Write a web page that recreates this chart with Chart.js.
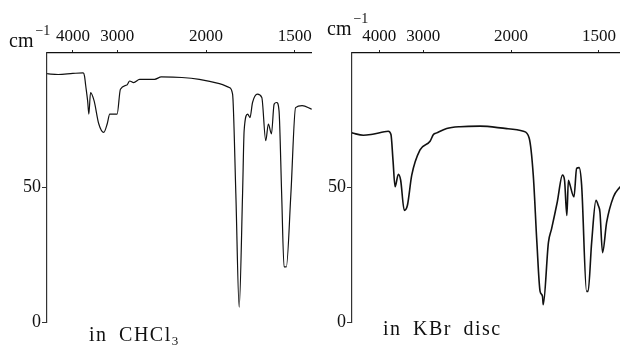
<!DOCTYPE html>
<html>
<head>
<meta charset="utf-8">
<script src="https://cdn.jsdelivr.net/npm/chart.js@4"></script>
<style>
  body { margin: 0; background: #fff; }
  #wrap { position: relative; width: 620px; height: 347px; overflow: hidden; font-family: "Liberation Serif", serif; color: #111; }
  canvas { position: absolute; top: 0; }
  .lbl { position: absolute; white-space: nowrap; line-height: 20px; }
  .lbl sup { font-size: 14px; position: relative; top: -4px; margin-left: 2px; }
  .lbl sub { font-size: 13px; position: relative; top: -1px; }
</style>
</head>
<body>
<div id="wrap">
  <canvas id="chcl3" width="315" height="347" style="left:0"></canvas>
  <canvas id="kbr" width="315" height="347" style="left:305px"></canvas>
  <div class="lbl" style="left:9px; top:25px; font-size:20px;">cm<sup>−1</sup></div>
  <div class="lbl" style="left:327px; top:13px; font-size:20px;">cm<sup>−1</sup></div>
  <div class="lbl" style="left:89px; top:324px; font-size:20px; letter-spacing:1.5px; word-spacing:5px;">in CHCl<sub>3</sub></div>
  <div class="lbl" style="left:383px; top:318px; font-size:20px; letter-spacing:1.5px; word-spacing:5px;">in KBr disc</div>
</div>
<script>
// wavenumbers (cm-1) and % transmittance
const chcl3Wn = [4960, 4500, 4000, 3714, 3680, 3650, 3600, 3572, 3532, 3450, 3350, 3247, 3180, 3133,
                 3003, 2948, 2845, 2805, 2747, 2665, 2480, 2404, 2200, 2052, 1905, 1840, 1819, 1799,
                 1779, 1759, 1750, 1730, 1717, 1703, 1677, 1654, 1634, 1621, 1606, 1593, 1581, 1570,
                 1558, 1547, 1537, 1517, 1497, 1470, 1432];
const chcl3T  = [92.3, 92.0, 92.4, 92.6, 91.5, 88, 82, 77.3, 85.3, 82.2, 73.7, 70.5, 73.7, 77.3,
                 77.3, 86.5, 88.1, 89.6, 89.0, 90.2, 90.2, 91.1, 90.9, 90.2, 88.6, 87.2, 84.7, 47.7,
                 5.5, 47.7, 71.1, 77.3, 76.0, 81.6, 84.7, 83.5, 67.4, 73.6, 69.9, 81.0, 81.6, 78.5,
                 47.7, 20.5, 20.5, 47.7, 79.7, 80.4, 79.1];

const kbrWn = [5050, 4552, 4214, 3745, 3675, 3623, 3573, 3495, 3442, 3363, 3298, 3210, 3056, 2888,
               2836, 2787, 2647, 2481, 2268, 2034, 1911, 1872, 1845, 1822, 1802, 1787, 1783, 1752,
               1734, 1702, 1674, 1663, 1651, 1643, 1637, 1615, 1602, 1590, 1578, 1555, 1548, 1532,
               1513, 1503, 1496, 1485, 1468, 1441, 1415];
const kbrT  = [70.3, 69.4, 69.8, 70.9, 69.7, 60, 50.3, 54.9, 52.7, 41.5, 43.3, 54.6, 64.0, 67.2,
               69.7, 70.3, 71.9, 72.6, 72.8, 71.9, 70.9, 68.4, 54.6, 29.6, 11.4, 9.5, 6.4, 29.6,
               34.6, 44.6, 54.6, 52.7, 39.6, 52.7, 51.5, 46.5, 57.1, 57.4, 50.9, 11.4, 11.4, 29.6,
               45.2, 43.3, 40.9, 25.8, 37.1, 46.5, 50.3];

const xTickWn = [4000, 3000, 2000, 1500];
const yTicks = [0, 50];

// the chart paper is linear in wavelength (um), labelled in cm-1
function makeChart(id, wn, t, xMin, xMax, padRight, lineWidth) {
  return new Chart(document.getElementById(id), {
    type: 'line',
    data: {
      datasets: [{
        data: wn.map((w, i) => ({ x: 1e4 / w, y: t[i] })),
        borderColor: '#111',
        borderWidth: lineWidth,
        pointRadius: 0,
        cubicInterpolationMode: 'monotone',
        fill: false
      }]
    },
    options: {
      responsive: false,
      animation: false,
      layout: { padding: { left: 0, right: padRight, top: 0, bottom: 25 } },
      plugins: { legend: { display: false }, tooltip: { enabled: false } },
      scales: {
        x: {
          type: 'linear',
          position: 'top',
          min: xMin,
          max: xMax,
          afterFit: s => { s.height = 53; },
          afterBuildTicks: s => { s.ticks = xTickWn.map(w => ({ value: 1e4 / w })); },
          ticks: {
            callback: v => Math.round(1e4 / v),
            autoSkip: false,
            maxRotation: 0,
            padding: 3,
            color: '#111',
            font: { family: 'Liberation Serif', size: 17 }
          },
          grid: { drawOnChartArea: false, tickLength: 3, color: '#222' },
          border: { color: '#111', width: 1.3 }
        },
        y: {
          min: 0,
          max: 100,
          afterFit: s => { s.width = 47; },
          afterBuildTicks: s => { s.ticks = yTicks.map(v => ({ value: v })); },
          ticks: {
            padding: 1,
            color: '#111',
            font: { family: 'Liberation Serif', size: 18 }
          },
          grid: { drawOnChartArea: false, tickLength: 5, color: '#333' },
          border: { color: '#333', width: 1.2 }
        }
      }
    }
  });
}

makeChart('chcl3', chcl3Wn, chcl3T, 2.014, 6.986, 2, 1.2);
makeChart('kbr', kbrWn, kbrT, 1.982, 7.065, 0, 1.6);
</script>
</body>
</html>
